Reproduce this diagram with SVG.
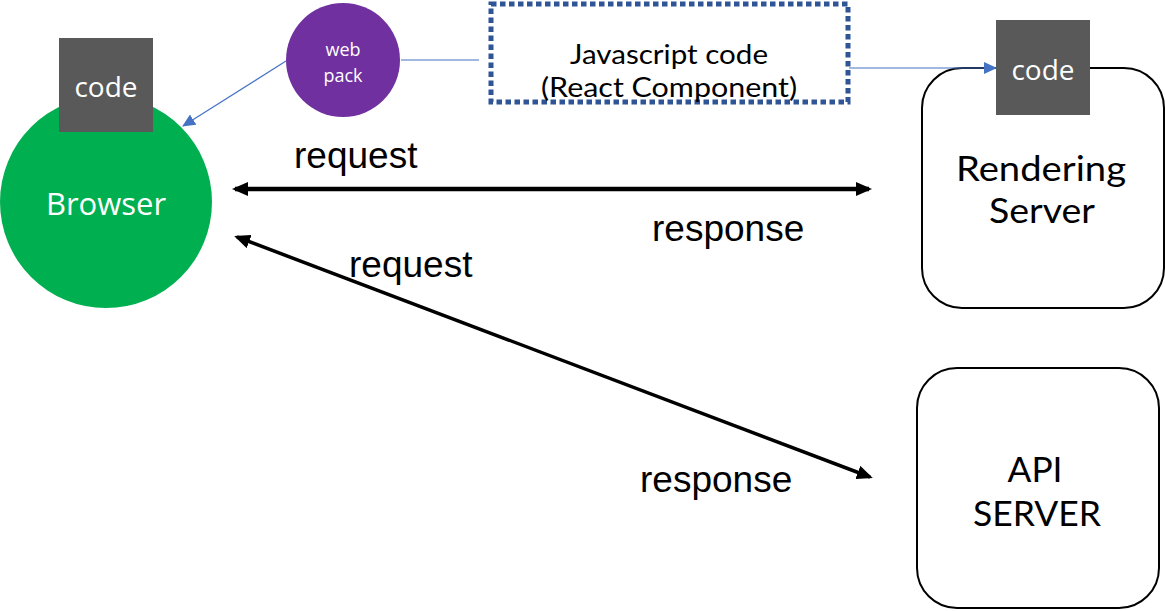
<svg xmlns="http://www.w3.org/2000/svg" width="1165" height="611" viewBox="0 0 1165 611">
<style>
.lbl{font-family:"Liberation Sans",Arial,sans-serif;font-size:37px;fill:#000}
.seg{font-family:"Open Sans","Noto Sans",sans-serif;fill:#fff;text-anchor:middle}
.srv{font-family:Lato,"Open Sans",sans-serif;font-size:35px;fill:#000;text-anchor:middle}
.js{font-family:Lato,"Open Sans",sans-serif;font-size:27px;fill:#000;text-anchor:middle}
.code{fill:#595959}
.box{fill:#fff;stroke:#000;stroke-width:2}
.blue{stroke:#4472C4;stroke-width:1.2;fill:none}
.blk{stroke:#000;fill:none}
</style>
<defs>
<marker id="ah" markerUnits="userSpaceOnUse" viewBox="0 0 16 14" markerWidth="16" markerHeight="14" refX="13" refY="7" orient="auto-start-reverse">
<path d="M0,0 L16,7 L0,14 z" fill="#000"/>
</marker>
<marker id="ahb" markerUnits="userSpaceOnUse" viewBox="0 0 13 12" markerWidth="13" markerHeight="12" refX="12" refY="6" orient="auto">
<path d="M0,0 L13,6 L0,12 z" fill="#4472C4"/>
</marker>
</defs>
<rect width="1165" height="611" fill="#fff"/>
<g id="browser">
<circle cx="106" cy="202" r="106" fill="#00B050"/>
<text class="seg" x="106" y="215" font-size="31">Browser</text>
</g>
<g id="browser-code">
<rect class="code" x="59" y="38" width="94" height="94"/>
<text class="seg" x="106" y="97" font-size="28">code</text>
</g>
<g id="webpack">
<circle cx="343" cy="60" r="57" fill="#7030A0"/>
<text class="seg" x="343" y="56" font-size="18">web</text>
<text class="seg" x="343" y="82" font-size="18">pack</text>
</g>
<g id="js-code">
<rect x="491" y="4" width="357" height="98" fill="none" stroke="#2F5597" stroke-width="5" stroke-dasharray="5.5 3.5"/>
<text class="js" x="669" y="64" textLength="198" lengthAdjust="spacingAndGlyphs">Javascript  code</text>
<text class="js" x="669" y="97" textLength="256" lengthAdjust="spacingAndGlyphs">(React Component)</text>
</g>
<g id="rendering-server">
<rect class="box" x="922" y="68" width="242" height="240" rx="40"/>
<text class="srv" x="1041" y="181" textLength="170" lengthAdjust="spacingAndGlyphs">Rendering</text>
<text class="srv" x="1042" y="223" textLength="106" lengthAdjust="spacingAndGlyphs">Server</text>
</g>
<g id="server-code">
<rect class="code" x="996" y="20" width="94" height="95"/>
<text class="seg" x="1043" y="80" font-size="28">code</text>
</g>
<g id="api-server">
<rect class="box" x="917" y="368" width="242" height="240" rx="40"/>
<text class="srv" x="1035" y="482" textLength="55" lengthAdjust="spacingAndGlyphs">API</text>
<text class="srv" x="1037" y="526" textLength="128" lengthAdjust="spacingAndGlyphs">SERVER</text>
</g>
<g id="connectors">
<line class="blue" x1="286" y1="61" x2="183" y2="126" marker-end="url(#ahb)"/>
<line class="blue" x1="401" y1="60" x2="479" y2="60"/>
<line class="blue" x1="849" y1="68" x2="996" y2="68" marker-end="url(#ahb)"/>
<line class="blk" x1="235" y1="189" x2="869" y2="189" stroke-width="4.5" marker-start="url(#ah)" marker-end="url(#ah)"/>
<line class="blk" x1="237" y1="237" x2="870" y2="477" stroke-width="3.5" marker-start="url(#ah)" marker-end="url(#ah)"/>
</g>
<g id="labels">
<text class="lbl" x="294" y="168">request</text>
<text class="lbl" x="652" y="241">response</text>
<text class="lbl" x="349" y="277">request</text>
<text class="lbl" x="640" y="492">response</text>
</g>
</svg>
